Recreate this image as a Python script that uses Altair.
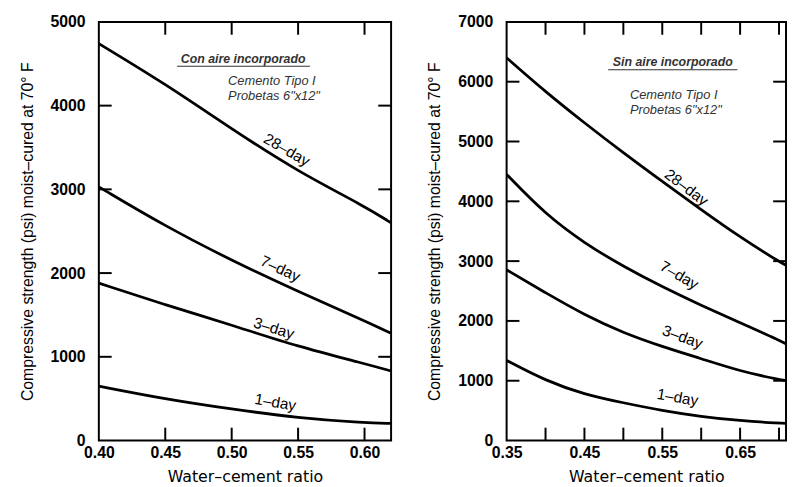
import altair as alt
import pandas as pd

# ---------------- data ----------------
series_names = ["28–day", "7–day", "3–day", "1–day"]

# Left panel: air-entrained ("Con aire incorporado")
xs_left = [0.40, 0.45, 0.50, 0.55, 0.60, 0.62]
left_28 = [4740, 4260, 3720, 3210, 2800, 2600]
left_7 = [3030, 2560, 2150, 1780, 1430, 1280]
left_3 = [1880, 1620, 1380, 1120, 920, 830]
left_1 = [650, 495, 375, 270, 212, 205]

# Right panel: non air-entrained ("Sin aire incorporado")
xs_right = [0.35, 0.40, 0.45, 0.50, 0.55, 0.60, 0.65, 0.70, 0.72]
right_28 = [6400, 5830, 5310, 4810, 4330, 3860, 3400, 2990, 2850]
right_7 = [4450, 3780, 3300, 2910, 2570, 2260, 1970, 1680, 1540]
right_3 = [2855, 2470, 2100, 1800, 1570, 1370, 1160, 1020, 980]
right_1 = [1340, 1000, 770, 630, 500, 400, 330, 290, 285]

# axes
left_xdomain = [0.40, 0.62]
left_ydomain = [0, 5000]
left_xlabels = [0.40, 0.45, 0.50, 0.55, 0.60]
left_xticks = [0.45, 0.50, 0.55, 0.60]
left_ylabels = [0, 1000, 2000, 3000, 4000, 5000]
left_yticks = [1000, 2000, 3000, 4000]

right_xdomain = [0.35, 0.709]   # the reference frame runs off the page edge
right_ydomain = [0, 7000]
right_xlabels = [0.35, 0.45, 0.55, 0.65]
right_xticks = [0.40, 0.45, 0.50, 0.55, 0.60, 0.65, 0.70]
right_ylabels = [0, 1000, 2000, 3000, 4000, 5000, 6000, 7000]
right_yticks = [1000, 2000, 3000, 4000, 5000, 6000]

# curve labels (data coordinates, rotation)
left_lab_x = [0.5415, 0.5366, 0.5317, 0.5329]
left_lab_y = [3470, 2050, 1340, 455]
left_lab_a = [30, 25, 17, 10]
right_lab_x = [0.581, 0.5717, 0.5759, 0.5696]
right_lab_y = [4230, 2760, 1730, 720]
right_lab_a = [37, 30, 20, 10]

# annotations
left_header = "Con aire incorporado"
right_header = "Sin aire incorporado"
notes = ["Cemento Tipo I", "Probetas 6\"x12\""]
left_header_pos = (0.5086, 4560)
left_underline = (0.4589, 0.5589, 4470)
left_notes_x = 0.4973
left_notes_y = [4296, 4116]
right_header_pos = (0.5635, 6321)
right_underline = (0.4805, 0.6465, 6200)
right_notes_x = 0.5084
right_notes_y = [5784, 5526]

X_TITLE = "Water–cement ratio"
Y_TITLE = "Compressive strength (psi) moist–cured at 70° F"

TICK = 13


def panel(xs, ys_list, xdom, ydom, xlabels, xticks, ylabels, yticks,
          lab_x, lab_y, lab_a, header, header_pos, underline, notes_x, notes_y,
          width, height):
    xscale = alt.Scale(domain=xdom, nice=False, zero=False)
    yscale = alt.Scale(domain=ydom, nice=False, zero=False)

    rows = []
    for name, ys in zip(series_names, ys_list):
        for x, y in zip(xs, ys):
            rows.append({"w": x, "s": y, "series": name})
    df = pd.DataFrame(rows)

    lines = alt.Chart(df).mark_line(
        color="black", strokeWidth=2.8, interpolate="basis", clip=True
    ).encode(
        x=alt.X("w:Q", scale=xscale, axis=alt.Axis(
            values=xlabels, format=".2f", ticks=False, domain=False, grid=False,
            labelPadding=4, labelFlush=False, title=X_TITLE,
            titleFont="DejaVu Sans", titleFontSize=16, titleFontWeight="normal",
            titlePadding=8)),
        y=alt.Y("s:Q", scale=yscale, axis=alt.Axis(
            values=ylabels, format="d", ticks=False, domain=False, grid=False,
            labelPadding=14, labelFlush=False, title=Y_TITLE,
            titleFont="Liberation Sans", titleFontSize=16, titleFontWeight="normal",
            titlePadding=15)),
        detail="series:N",
    )

    xt = pd.DataFrame({"w": xticks})
    yt = pd.DataFrame({"s": yticks})
    bottom = alt.Chart(xt).mark_rule(color="black", strokeWidth=2).encode(
        x=alt.X("w:Q", scale=xscale),
        y=alt.value(height), y2=alt.value(height - TICK))
    top = alt.Chart(xt).mark_rule(color="black", strokeWidth=2).encode(
        x=alt.X("w:Q", scale=xscale),
        y=alt.value(0), y2=alt.value(TICK))
    left = alt.Chart(yt).mark_rule(color="black", strokeWidth=2).encode(
        y=alt.Y("s:Q", scale=yscale),
        x=alt.value(0), x2=alt.value(TICK))
    right = alt.Chart(yt).mark_rule(color="black", strokeWidth=2).encode(
        y=alt.Y("s:Q", scale=yscale),
        x=alt.value(width), x2=alt.value(width - TICK))

    labdf = pd.DataFrame({"w": lab_x, "s": lab_y, "a": lab_a, "label": series_names})
    labels = alt.Chart(labdf).mark_text(
        font="Liberation Sans", fontSize=15.5, color="black",
        align="center", baseline="middle"
    ).encode(
        x=alt.X("w:Q", scale=xscale),
        y=alt.Y("s:Q", scale=yscale),
        text="label:N",
        angle=alt.Angle("a:Q", scale=None),
    )

    hdf = pd.DataFrame({"w": [header_pos[0]], "s": [header_pos[1]], "t": [header]})
    head = alt.Chart(hdf).mark_text(
        font="Liberation Sans", fontSize=12.5, fontWeight="bold", fontStyle="italic",
        color="#333333", align="center", baseline="middle"
    ).encode(
        x=alt.X("w:Q", scale=xscale),
        y=alt.Y("s:Q", scale=yscale),
        text="t:N")

    udf = pd.DataFrame({"w": [underline[0]], "w2": [underline[1]], "s": [underline[2]]})
    under = alt.Chart(udf).mark_rule(color="#333333", strokeWidth=1.2).encode(
        x=alt.X("w:Q", scale=xscale), x2="w2:Q",
        y=alt.Y("s:Q", scale=yscale))

    ndf = pd.DataFrame({"w": [notes_x] * len(notes), "s": notes_y, "t": notes})
    note = alt.Chart(ndf).mark_text(
        font="Liberation Sans", fontSize=13, fontStyle="italic",
        color="#333333", align="left", baseline="middle"
    ).encode(
        x=alt.X("w:Q", scale=xscale),
        y=alt.Y("s:Q", scale=yscale),
        text="t:N")

    return alt.layer(lines, bottom, top, left, right, labels, head, under, note).properties(
        width=width, height=height)


left_panel = panel(xs_left, [left_28, left_7, left_3, left_1], left_xdomain, left_ydomain,
                   left_xlabels, left_xticks, left_ylabels, left_yticks,
                   left_lab_x, left_lab_y, left_lab_a, left_header, left_header_pos,
                   left_underline, left_notes_x, left_notes_y, 296, 424)
right_panel = panel(xs_right, [right_28, right_7, right_3, right_1], right_xdomain, right_ydomain,
                    right_xlabels, right_xticks, right_ylabels, right_yticks,
                    right_lab_x, right_lab_y, right_lab_a, right_header, right_header_pos,
                    right_underline, right_notes_x, right_notes_y, 283, 424)

chart = alt.hconcat(left_panel, right_panel, spacing=33).properties(
    padding={"left": 10, "top": 2, "right": 0, "bottom": 0},
    background="white",
).configure_view(
    stroke="black", strokeWidth=2
).configure_axis(
    labelFont="Liberation Sans", labelFontSize=16, labelFontWeight="bold",
    labelColor="black", titleColor="black"
)

chart.save("out.html", embed_options={"renderer": "svg", "actions": False})
